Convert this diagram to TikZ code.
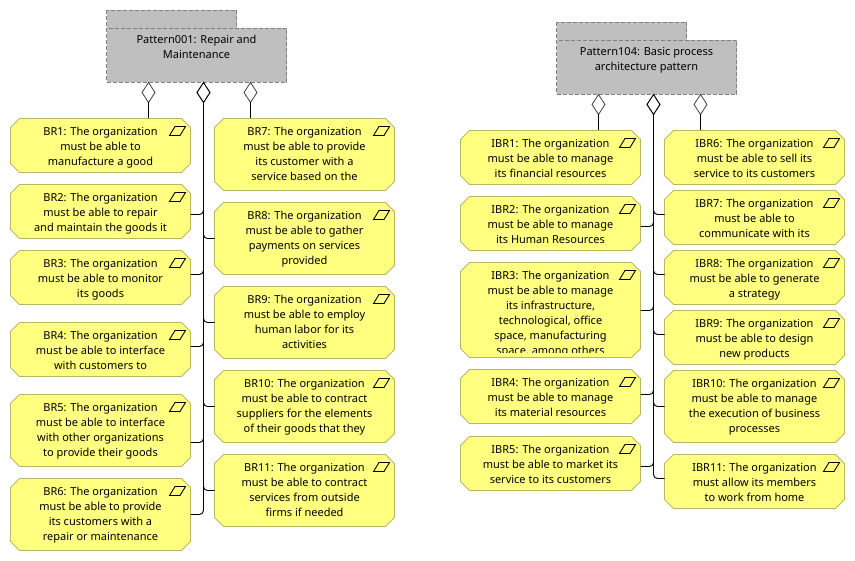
\documentclass[tikz,border=0pt]{standalone}
\usepackage{fontspec}
\setmainfont{Noto Sans}
\usetikzlibrary{shapes.geometric}
\definecolor{reqfill}{RGB}{255,255,128}
\definecolor{reqline}{RGB}{184,184,96}
\definecolor{grpfill}{RGB}{191,191,191}
\definecolor{grpline}{RGB}{128,128,128}
\tikzset{
  reqbox/.style={rectangle,minimum width=180pt,inner sep=0pt,outer sep=0pt,anchor=north west},
  reqoutline/.style={draw=reqline,fill=reqfill,line width=.8pt,line join=miter},
  reqtext/.style={anchor=north,inner sep=0pt,outer sep=0pt,align=center,font=\fontsize{11}{15}\selectfont,text=black},
  grouprect/.style={draw=grpline,fill=grpfill,dash pattern=on 4pt off 2pt,line width=.8pt},
  grouptext/.style={rectangle,anchor=north west,minimum width=180pt,minimum height=54pt,inner sep=0pt,outer sep=0pt},
  grouplabel/.style={anchor=north,inner sep=0pt,align=center,font=\fontsize{11}{15}\selectfont},
  hollow/.style={diamond,draw=black!75,fill=white,line width=.8pt,minimum width=13pt,minimum height=20pt,aspect=.65,inner sep=0pt,outer sep=0pt,anchor=north},
  hollowbus/.style={hollow,draw=black,line width=1pt},
  conn/.style={draw=black,line width=.9pt,rounded corners=4pt},
  icon/.style={draw=black,line width=.9pt}
}
\newcommand{\reqshape}[4]{%
  \node[reqbox,minimum height={(#4-#3)*1pt}] (#1) at (#2.5,#3.5) {};
  \draw[reqoutline] ([xshift=9pt]#1.north west) -- ([xshift=-9pt]#1.north east)
    -- ([yshift=-9pt]#1.north east) -- ([yshift=9pt]#1.south east)
    -- ([xshift=-9pt]#1.south east) -- ([xshift=9pt]#1.south west)
    -- ([yshift=9pt]#1.south west) -- ([yshift=-9pt]#1.north west) -- cycle;
  \draw[icon] ([shift={(-21,17)}]#1.north east) -- ([shift={(-15.5,8)}]#1.north east) -- ([shift={(-5,8)}]#1.north east) -- ([shift={(-10.5,17)}]#1.north east) -- cycle;}
\newcommand{\reqnode}[5]{%
  \reqshape{#1}{#2}{#3}{#4}
  \node[reqtext] (#1t) at ([yshift=-8.7pt]#1.north) {#5};}
\newcommand{\grp}[6]{%
  \path[grouprect] (#2.5,#3.5) rectangle ++(130,18);
  \node[grouptext,grouprect,minimum height=54pt] (#1) at (#2.5,#4.5) {};
  \node[grouplabel] (#1t) at ([yshift=-6.2pt]#1.north) {#5\\#6};
  }
\begin{document}
\begin{tikzpicture}[x=1pt,y=-1pt]
\useasboundingbox (0,0) rectangle (855,561);
\fill[white] (0,0) rectangle (855,561);
\grp{g1}{106}{10}{28}{Pattern001: Repair and}{Maintenance}
\grp{g2}{556}{22}{40}{Pattern104: Basic process}{architecture pattern}

\node[hollow] (d1) at (148.5,82.5) {};
\node[hollowbus] (d2) at (203.5,82.5) {};
\node[hollow] (d3) at (250.5,82.5) {};
\node[hollow] (e1) at (598.5,94.5) {};
\node[hollowbus] (e2) at (653.5,94.5) {};
\node[hollow] (e3) at (700.5,94.5) {};

\reqnode{b1}{10}{118}{172}{BR1: The organization\\must be able to\\manufacture a good}
\reqnode{b2}{10}{184}{238}{BR2: The organization\\must be able to repair\\and maintain the goods it}
\reqnode{b3}{10}{250}{304}{BR3: The organization\\must be able to monitor\\its goods}
\reqnode{b4}{10}{322}{376}{BR4: The organization\\must be able to interface\\with customers to}
\reqnode{b5}{10}{394}{466}{BR5: The organization\\must be able to interface\\with other organizations\\to provide their goods}
\reqnode{b6}{10}{478}{550}{BR6: The organization\\must be able to provide\\its customers with a\\repair or maintenance}
\reqnode{b7}{214}{118}{190}{BR7: The organization\\must be able to provide\\its customer with a\\service based on the}
\reqnode{b8}{214}{202}{274}{BR8: The organization\\must be able to gather\\payments on services\\provided}
\reqnode{b9}{214}{286}{358}{BR9: The organization\\must be able to employ\\human labor for its\\activities}
\reqnode{b10}{214}{370}{442}{BR10: The organization\\must be able to contract\\suppliers for the elements\\of their goods that they}
\reqnode{b11}{214}{454}{526}{BR11: The organization\\must be able to contract\\services from outside\\firms if needed}

\reqnode{c1}{460}{130}{184}{IBR1: The organization\\must be able to manage\\its financial resources}
\reqnode{c2}{460}{196}{250}{IBR2: The organization\\must be able to manage\\its Human Resources}
\reqshape{c3}{460}{262}{357}
\begin{scope}
\clip (440,250) rectangle (660,352.5);
\node[reqtext] (c3t) at ([yshift=-8.7pt]c3.north) {IBR3: The organization\\must be able to manage\\its infrastructure,\\technological, office\\space, manufacturing\\space, among others};
\end{scope}
\reqnode{c4}{460}{369}{423}{IBR4: The organization\\must be able to manage\\its material resources}
\reqnode{c5}{460}{436}{490}{IBR5: The organization\\must be able to market its\\service to its customers}
\reqnode{c6}{664}{130}{184}{IBR6: The organization\\must be able to sell its\\service to its customers}
\reqnode{c7}{664}{190}{244}{IBR7: The organization\\must be able to\\communicate with its}
\reqnode{c8}{664}{250}{304}{IBR8: The organization\\must be able to generate\\a strategy}
\reqnode{c9}{664}{310}{364}{IBR9: The organization\\must be able to design\\new products}
\reqnode{c10}{664}{370}{442}{IBR10: The organization\\must be able to manage\\the execution of business\\processes}
\reqnode{c11}{664}{454}{508}{IBR11: The organization\\must allow its members\\to work from home}

\draw[conn] (d1.south) -- (d1.south |- b1.north);
\draw[conn] (d3.south) -- (d3.south |- b7.north);
\draw[conn] (e1.south) -- (e1.south |- c1.north);
\draw[conn] (e3.south) -- (e3.south |- c6.north);
\foreach \n/\y in {b2/214,b3/274,b4/346,b5/442,b6/514}
  \draw[conn] (d2.south) |- (\n.east |- 0,\y.5);
\foreach \n/\y in {b8/238,b9/322,b10/406,b11/490}
  \draw[conn] (d2.south) |- (\n.west |- 0,\y.5);
\foreach \n/\y in {c2/226,c3/310,c4/394,c5/466}
  \draw[conn] (e2.south) |- (\n.east |- 0,\y.5);
\foreach \n/\y in {c7/214,c8/274,c9/334,c10/406,c11/478}
  \draw[conn] (e2.south) |- (\n.west |- 0,\y.5);
\end{tikzpicture}
\end{document}
